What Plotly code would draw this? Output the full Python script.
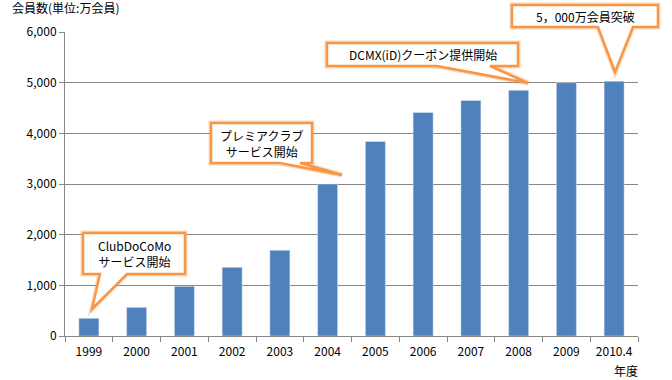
import plotly.graph_objects as go

years = ["1999", "2000", "2001", "2002", "2003", "2004", "2005", "2006", "2007", "2008", "2009", "2010.4"]
members = [350, 565, 980, 1355, 1690, 3000, 3840, 4410, 4650, 4850, 5000, 5030]
y_ticks = [0, 1000, 2000, 3000, 4000, 5000, 6000]
y_tick_labels = ["0", "1,000", "2,000", "3,000", "4,000", "5,000", "6,000"]

W, H = 672, 380
L, R, T, B = 65, 638, 32, 336
FONT = "Noto Sans CJK JP"

def px(x):
    return (x - L) / (R - L)

def py(y):
    return (B - y) / (B - T)

def callout(x0, y0, x1, y1, b1, b2, tx, ty):
    pts = [(x0, y0), (x1, y0), (x1, y1), (b2, y1), (tx, ty), (b1, y1), (x0, y1)]
    d = "M " + " L ".join(f"{px(a):.5f},{py(b):.5f}" for a, b in pts) + " Z"
    return d

callouts = [
    (83, 233, 185, 274, 100, 127, 92, 309, "ClubDoCoMo<br>サービス開始"),
    (211, 123, 312, 163, 280, 300, 342, 175, "プレミアクラブ<br>サービス開始"),
    (327, 43, 518, 66, 437, 490, 528, 83, "DCMX(iD)クーポン提供開始"),
    (512, 5, 658, 27, 598, 633, 615, 72, "5，000万会員突破"),
]

fig = go.Figure(go.Bar(x=years, y=members, marker_color="#4F81BD", width=0.42, hoverinfo="skip"))

shapes = []
annotations = []
for (x0, y0, x1, y1, b1, b2, tx, ty, text) in callouts:
    for w, c in [(5, "rgba(247,150,70,0.35)"), (2.5, "#F79646")]:
        shapes.append(dict(type="path", xref="paper", yref="paper",
                           path=callout(x0, y0, x1, y1, b1, b2, tx, ty),
                           line=dict(color=c, width=w), fillcolor="white", layer="above"))
    annotations.append(dict(xref="paper", yref="paper", x=px((x0 + x1) / 2), y=py((y0 + y1) / 2),
                            text=text, showarrow=False, xanchor="center", yanchor="middle",
                            font=dict(family=FONT, size=12, color="black")))

annotations.append(dict(xref="paper", yref="paper", x=px(10), y=py(8), text="会員数(単位:万会員)",
                        showarrow=False, xanchor="left", yanchor="middle",
                        font=dict(family=FONT, size=12, color="black")))
annotations.append(dict(xref="paper", yref="paper", x=px(640), y=py(370), text="年度",
                        showarrow=False, xanchor="right", yanchor="middle",
                        font=dict(family=FONT, size=12, color="black")))

fig.update_layout(
    width=W, height=H,
    margin=dict(l=L, r=W - R, t=T, b=H - B),
    plot_bgcolor="white", paper_bgcolor="white",
    showlegend=False,
    font=dict(family=FONT, size=12, color="black"),
    shapes=shapes, annotations=annotations,
    xaxis=dict(type="category", tickson="boundaries", ticks="outside", ticklen=5,
               tickcolor="#868686", showline=True, linecolor="#868686", linewidth=1,
               showgrid=False, ticklabelstandoff=5,
               tickfont=dict(family=FONT, size=12, color="black")),
    yaxis=dict(range=[0, 6000], tickvals=y_ticks, ticktext=y_tick_labels, ticks="outside",
               ticklen=5, tickcolor="#868686", showline=True, linecolor="#868686",
               showgrid=True, gridcolor="#868686", gridwidth=1, zeroline=False,
               tickfont=dict(family=FONT, size=12, color="black")),
)

fig.write_html("out.html", config={"displayModeBar": False},
               post_script="document.body.style.margin='0';document.body.style.overflow='hidden';")
